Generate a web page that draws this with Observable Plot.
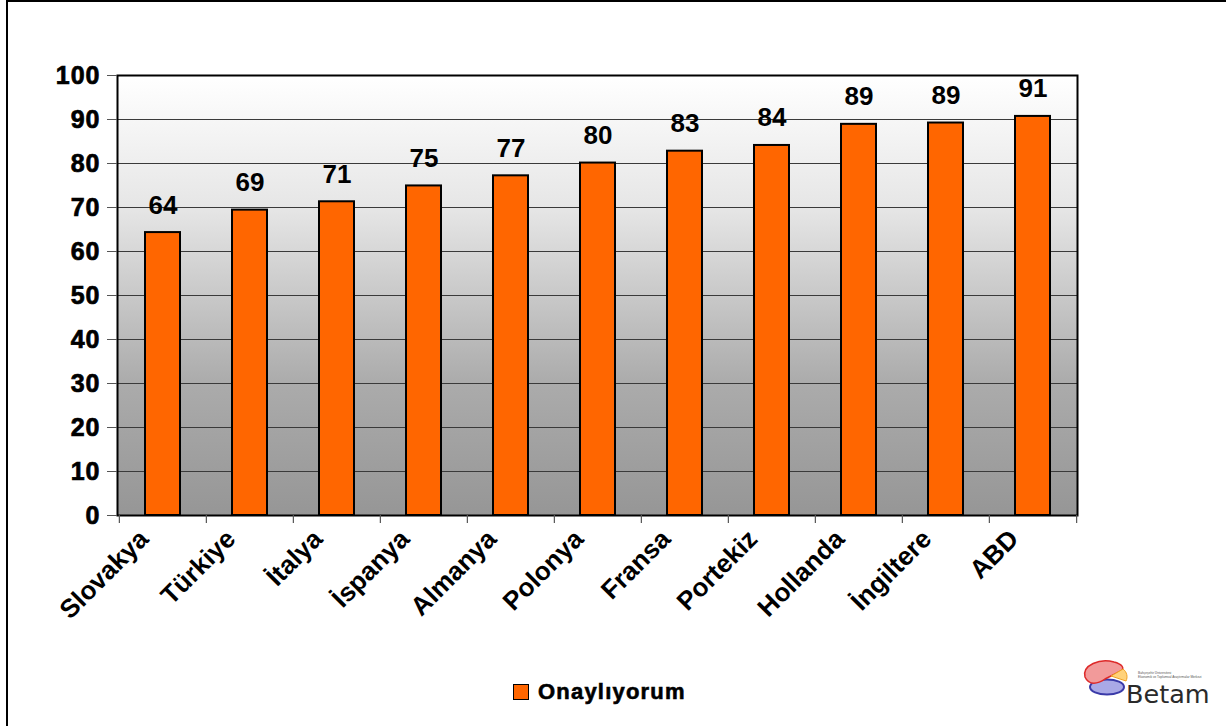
<!DOCTYPE html>
<html>
<head>
<meta charset="utf-8">
<script src="https://cdn.jsdelivr.net/npm/d3@7"></script>
<script src="https://cdn.jsdelivr.net/npm/@observablehq/plot@0.6"></script>
<style>
  html, body { margin: 0; padding: 0; background: #fff; }
  #wrap { position: relative; width: 1226px; height: 726px; overflow: hidden; background: #fff; font-family: "Liberation Sans", Arial, sans-serif; }
  #border { position: absolute; left: 6px; top: 0; width: 1300px; height: 800px; border-top: 2px solid #000; border-left: 2px solid #000; box-sizing: border-box; pointer-events: none; }
  #chart { position: absolute; left: 0; top: 0; }
  g[aria-label="value-labels"] text { letter-spacing: 1.5px; stroke: #000; stroke-width: 0.7px; }
  g[aria-label="country-labels"] text { letter-spacing: 1.2px; stroke: #000; stroke-width: 0.7px; }
  g[aria-label="y-axis tick label"] text { letter-spacing: 1px; stroke: #000; stroke-width: 0.7px; }
  #legend { position: absolute; left: 513px; top: 679px; display: flex; align-items: center; font-weight: bold; font-size: 22px; letter-spacing: 1.2px; color: #000; -webkit-text-stroke: 0.6px #000; }
  #legend .sw { width: 14px; height: 14px; background: #FF6600; border: 1px solid #000; margin-right: 9px; -webkit-text-stroke: 0; }
  #logo { position: absolute; left: 1080px; top: 655px; }
</style>
</head>
<body>
<div id="wrap">
  <div id="chart"></div>
  <div id="legend"><span class="sw"></span><span id="legendText"></span></div>
  <svg id="logo" width="146" height="60" viewBox="0 0 146 60">
    <ellipse cx="27" cy="32" rx="17" ry="7.5" fill="#a9a9e6" stroke="#3a3aa8" stroke-width="2"/>
    <path d="M5,22 C2,10 20,3 34,7 C42,9 45,13 41,16 L25,24 C18,29 9,31 5,22 Z" fill="#f29a9a" stroke="#dd2a2a" stroke-width="1.5"/>
    <path d="M31,21 L43,14 C47,17 48,22 46,26 Z" fill="#ffd27a" stroke="#f0a020" stroke-width="1"/>
    <text x="58" y="19" font-family="Liberation Sans, Arial" font-size="3.2" fill="#555">Bahçeşehir Üniversitesi</text>
    <text x="58" y="23" font-family="Liberation Sans, Arial" font-size="3.2" fill="#555">Ekonomik ve Toplumsal Araştırmalar Merkezi</text>
    <text x="46" y="48" font-family="DejaVu Sans, sans-serif" font-size="25.5" fill="#2a2a2a">Betam</text>
  </svg>
  <div id="border"></div>
</div>
<script>
const countries = ["Slovakya", "Türkiye", "İtalya", "İspanya", "Almanya", "Polonya", "Fransa", "Portekiz", "Hollanda", "İngiltere", "ABD"];
const approval = [64.3, 69.4, 71.3, 74.9, 77.2, 80.1, 82.8, 84.1, 88.9, 89.2, 90.7];
const yTicks = [0, 10, 20, 30, 40, 50, 60, 70, 80, 90, 100];
const seriesName = "Onaylıyorum";

document.getElementById("legendText").textContent = seriesName;

const data = countries.map((c, i) => ({country: c, value: approval[i]}));

const W = 1226, H = 640;
const mL = 117, mR = 149, mT = 75, mB = 125;
const step = (W - mL - mR) / countries.length;

const chart = Plot.plot({
  width: W,
  height: H,
  marginLeft: mL,
  marginRight: mR,
  marginTop: mT,
  marginBottom: mB,
  style: {fontFamily: "Liberation Sans, Arial, sans-serif", fontWeight: "bold", fontSize: "22px", background: "transparent", overflow: "visible", color: "#000"},
  x: {domain: countries, paddingInner: 0.6, paddingOuter: 0.3, axis: null, label: null},
  y: {domain: [0, 100], axis: null, label: null},
  marks: [
    Plot.frame({fill: "url(#bgGrad)", stroke: null}),
    Plot.ruleY(yTicks.filter(d => d > 0 && d < 100), {stroke: "#3a3a3a", strokeWidth: 1}),
    Plot.barY(data, {x: "country", y: "value", fill: "#FF6600", stroke: "#000", strokeWidth: 2}),
    Plot.frame({stroke: "#000", strokeWidth: 2}),
    Plot.axisY({ticks: yTicks, label: null, tickSize: 10, tickPadding: 7, tickFormat: d => String(d), fontSize: 25, fontWeight: "bold", stroke: "#555", fill: "#000"}),
    Plot.ruleX(countries, {x: d => d, y1: 0, y2: -1.8, dx: -step / 2, stroke: "#555", strokeWidth: 1.2}),
    Plot.ruleX(countries.slice(-1), {x: d => d, y1: 0, y2: -1.8, dx: step / 2, stroke: "#555", strokeWidth: 1.2}),
    Plot.text(data, {x: "country", y: "value", text: d => d3.format(".0f")(d.value), dy: -19, lineAnchor: "bottom", fontSize: 26, fontWeight: "bold", fill: "#000", ariaLabel: "value-labels"}),
    Plot.text(countries, {x: d => d, frameAnchor: "bottom", rotate: -45, textAnchor: "end", lineAnchor: "bottom", dx: -13, dy: 25, fontSize: 26, fontWeight: "bold", fill: "#000", ariaLabel: "country-labels"})
  ]
});

const svg = d3.select(chart);
const defs = svg.insert("defs", ":first-child");
const grad = defs.append("linearGradient").attr("id", "bgGrad").attr("x1", 0).attr("y1", 0).attr("x2", 0).attr("y2", 1);
grad.append("stop").attr("offset", "0%").attr("stop-color", "#ffffff");
grad.append("stop").attr("offset", "30%").attr("stop-color", "#e6e6e6");
grad.append("stop").attr("offset", "70%").attr("stop-color", "#ababab");
grad.append("stop").attr("offset", "100%").attr("stop-color", "#969696");

document.getElementById("chart").appendChild(chart);
</script>
</body>
</html>
